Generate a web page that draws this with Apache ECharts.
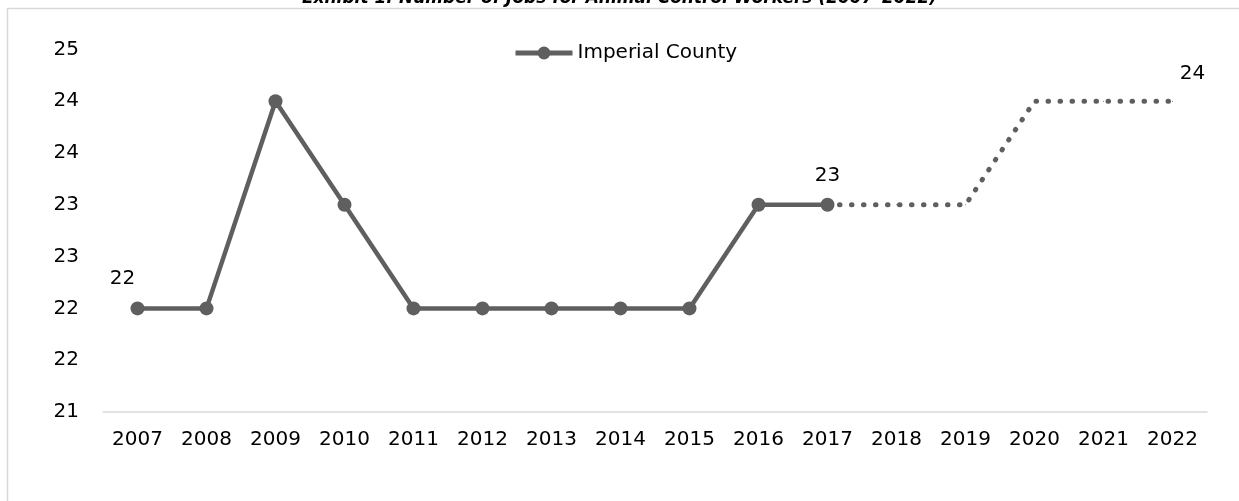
<!DOCTYPE html>
<html>
<head>
<meta charset="utf-8">
<script src="https://cdn.jsdelivr.net/npm/echarts@6/dist/echarts.min.js"></script>
<style>html,body{margin:0;padding:0;background:#fff;}#c{width:1239px;height:501px;}</style>
</head>
<body>
<div id="c"></div>
<script>
const years = ['2007','2008','2009','2010','2011','2012','2013','2014','2015','2016','2017','2018','2019','2020','2021','2022'];
const actualJobs = [22, 22, 24, 23, 22, 22, 22, 22, 22, 23, 23, null, null, null, null, null];
const projectedJobs = [null, null, null, null, null, null, null, null, null, null, 23, 23, 23, 24, 24, 24];
const yTicks = { min: 21, max: 24.5, step: 0.5 };
const seriesName = 'Imperial County';
const titleText = 'Exhibit 1: Number of Jobs for Animal Control Workers (2007\u20132022)';

const FONT = 'DejaVu Sans';
const GREY = '#5f5f5f';
const FS = 20;

const actualData = actualJobs.map((v, i) => {
  if (v === null) return null;
  if (i === 0) return { value: v, label: { show: true, offset: [-15, -3] } };
  if (i === 10) return { value: v, label: { show: true, offset: [0, -2] } };
  return v;
});
const lastIdx = projectedJobs.length - 1;
const projData = projectedJobs.map((v, i) => {
  if (v === null) return null;
  if (i === lastIdx) return { value: v, label: { show: true, offset: [20, -7] } };
  return v;
});

const chart = echarts.init(document.getElementById('c'));
chart.setOption({
  animation: false,
  backgroundColor: '#fff',
  textStyle: { fontFamily: FONT },
  title: {
    text: titleText,
    left: 'center',
    top: -15,
    textStyle: { fontFamily: FONT, fontSize: 17, fontWeight: 'bold', fontStyle: 'italic', color: '#000' }
  },
  graphic: [{
    type: 'rect',
    shape: { x: 7.5, y: 8.5, width: 1400, height: 700 },
    style: { fill: 'none', stroke: '#d9d9d9', lineWidth: 1.5 },
    silent: true,
    z: -1
  }],
  legend: {
    data: [seriesName],
    left: 508,
    top: 38,
    itemWidth: 57,
    itemHeight: 16,
    lineStyle: { width: 5 },
    textStyle: { fontFamily: FONT, fontSize: FS, color: '#000' }
  },
  grid: { left: 103, right: 32, top: 49.4, bottom: 89 },
  xAxis: {
    type: 'category',
    data: years,
    boundaryGap: true,
    axisLine: { lineStyle: { color: '#d9d9d9', width: 1.5 } },
    axisTick: { show: false },
    axisLabel: { fontFamily: FONT, fontSize: FS, color: '#000', margin: 18 }
  },
  yAxis: {
    type: 'value',
    min: yTicks.min,
    max: yTicks.max,
    interval: yTicks.step,
    splitLine: { show: false },
    axisLine: { show: false },
    axisTick: { show: false },
    axisLabel: { fontFamily: FONT, fontSize: FS, color: '#000', margin: 24, formatter: v => String(Math.round(v)) }
  },
  series: [
    {
      name: seriesName,
      type: 'line',
      data: actualData,
      symbol: 'circle',
      symbolSize: 14,
      itemStyle: { color: GREY },
      lineStyle: { color: GREY, width: 4.5 },
      label: { position: 'top', distance: 10, fontFamily: FONT, fontSize: FS, color: '#000' },
      z: 3
    },
    {
      name: 'Projection',
      type: 'line',
      data: projData,
      symbol: 'circle',
      symbolSize: 1,
      showSymbol: true,
      itemStyle: { color: GREY },
      lineStyle: { color: GREY, width: 5, type: [0.5, 11.5], cap: 'round' },
      label: { position: 'top', distance: 10, fontFamily: FONT, fontSize: FS, color: '#000' },
      z: 2
    }
  ]
});
</script>
</body>
</html>
